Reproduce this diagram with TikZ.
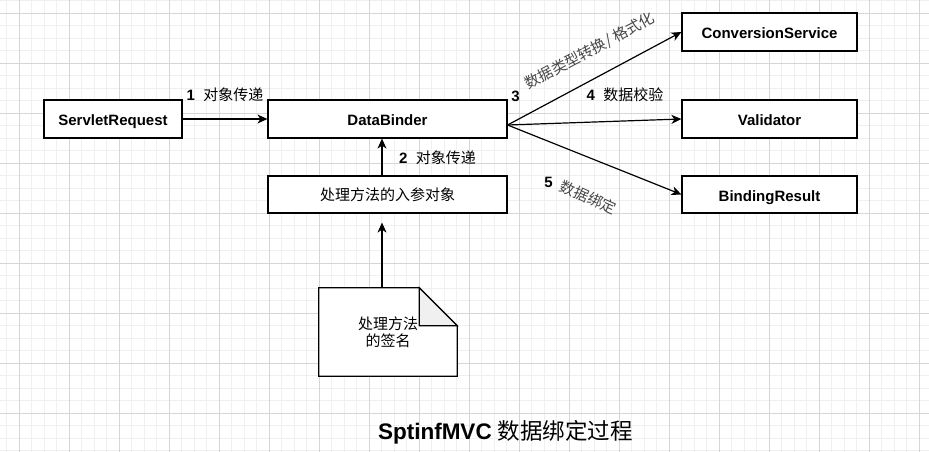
\documentclass[tikz,border=0pt]{standalone}
\usepackage{fontspec}
\setmainfont{Liberation Sans}
\newfontfamily\cjk{Noto Sans CJK SC}
\usetikzlibrary{arrows.meta,calc}
\begin{document}
\begin{tikzpicture}[x=1pt,y=-1pt,
  minorgrid/.style={draw=gray!12,line width=0.9pt},
  majorgrid/.style={draw=gray!32,line width=0.9pt},
  box/.style={draw,fill=white,line width=1.2pt,inner sep=0pt,minimum height=38pt,
    text height=13pt,text depth=0pt,
    font=\fontsize{15}{18}\selectfont\bfseries},
  cjkbox/.style={draw,fill=white,line width=1.2pt,inner sep=0pt,minimum height=37pt,
    font=\fontsize{15}{18}\selectfont\cjk},
  conn/.style={line width=1.2pt,-{Stealth[length=10pt,width=9pt,inset=3pt]}},
  lbl/.style={inner sep=0pt,font=\fontsize{15}{18}\selectfont},
  num/.style={inner sep=0pt,font=\fontsize{15}{18}\selectfont\bfseries},
  rlbl/.style={inner sep=0pt,font=\fontsize{15}{18}\selectfont\cjk,text=black!72}
]
\useasboundingbox (0,0) rectangle (929,452);
\fill[white] (0,0) rectangle (929,452);
% grid
\foreach \i in {0,...,74} \draw[minorgrid] ({6.8+12.5*\i},0) -- ({6.8+12.5*\i},452);
\foreach \j in {0,...,36} \draw[minorgrid] (0,{0.8+12.5*\j}) -- (929,{0.8+12.5*\j});
\foreach \i in {0,...,18} \draw[majorgrid] ({19.3+50*\i},0) -- ({19.3+50*\i},452);
\foreach \j in {0,...,8} \draw[majorgrid] (0,{13.3+50*\j}) -- (929,{13.3+50*\j});

% boxes
\node[box,minimum width=138pt] (sr) at (113,119) {ServletRequest};
\node[box,minimum width=239pt] (db) at (387.5,119) {DataBinder};
\node[cjkbox,minimum width=239pt] (param) at (387.5,194.5) {处理方法的入参对象};
\node[box,minimum width=175pt] (cs) at (769.5,32) {ConversionService};
\node[box,minimum width=175pt] (val) at (769.5,119) {Validator};
\node[box,minimum width=175pt,minimum height=37pt] (br) at (769.5,194.5) {BindingResult};

% note
\node[inner sep=0pt,minimum width=138pt,minimum height=88pt] (note) at (388,332) {};
\draw[line width=1.2pt,fill=white] (note.north west) -- ($(note.north east)+(-38,0)$)
  -- ($(note.north east)+(0,38)$) -- (note.south east) -- (note.south west) -- cycle;
\draw[line width=1.2pt,fill=gray!12] ($(note.north east)+(-38,0)$) -- ($(note.north east)+(-38,38)$)
  -- ($(note.north east)+(0,38)$) -- cycle;
\node[align=center,inner sep=0pt,font=\fontsize{15}{17}\selectfont\cjk] (notetext) at (388,332) {处理方法\\的签名};

% connectors
\coordinate (ax) at (382,0);
\coordinate (dbout) at ($(db.east)+(0,6)$);
\draw[conn] (sr.east) -- (db.west);
\draw[conn] (ax |- param.north) -- (ax |- db.south);
\draw[conn,shorten >=9pt] (ax |- note.north) -- (ax |- param.south);
\draw[conn] (dbout) -- (cs.west);
\draw[conn] (dbout) -- (val.west);
\draw[conn] (dbout) -- (br.west);

% labels
\node[lbl] (l1) at (225,95) {\textbf{1}\ \ {\cjk 对象传递}};
\node[lbl] (l2) at (437.5,158) {\textbf{2}\ \ {\cjk 对象传递}};
\node[lbl] (l4) at (625,95) {\textbf{4}\ \ {\cjk 数据校验}};
\node[num] (n3) at (515.5,96) {3};
\node[rlbl,rotate=28] (l3) at (590,51) {数据类型转换/ 格式化};
\node[num] (n5) at (548.5,182) {5};
\node[rlbl,rotate=-24] (l5) at (588.5,197.5) {数据绑定};

% title
\node[inner sep=0pt,font=\fontsize{22.5}{26}\selectfont] (title) at (505.5,432) {\textbf{SptinfMVC} {\cjk 数据绑定过程}};
\end{tikzpicture}
\end{document}
